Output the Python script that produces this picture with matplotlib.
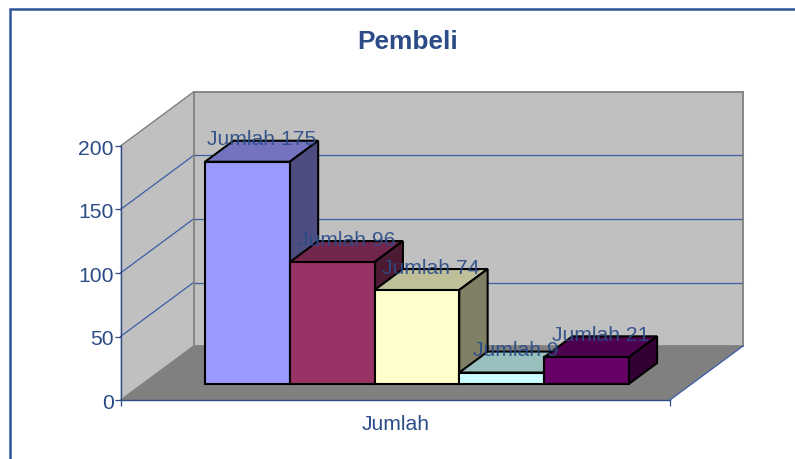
import matplotlib
matplotlib.use("Agg")
import matplotlib.pyplot as plt
from matplotlib.patches import Polygon
from matplotlib.lines import Line2D
from matplotlib.colors import to_rgb
from matplotlib.transforms import ScaledTranslation

W, H = 795, 459
plt.rcParams['font.family'] = ['Liberation Sans', 'DejaVu Sans']

title = "Pembeli"
category = "Jumlah"
values = [175, 96, 74, 9, 21]
front_colors = ['#9999FF', '#993366', '#FFFFCC', '#CCFFFF', '#660066']
y_ticks = [0, 50, 100, 150, 200]

NAVY = '#2B4C87'
GRID = '#3A5EA6'
FRAME = '#2F5597'
WALL = '#C0C0C0'
FLOOR = '#808080'
EDGE = '#808080'

# Front plane of the 3D box, in pixels
L, R, T, B = 120.5, 670, 146, 400
DX_PX, DY_PX = 73, 54            # full depth of the box
YMAX = 200
GAP = 0.1145                     # category gap on each side
BAR_W = (1 - 2 * GAP) / len(values)
D0, D1 = 16 / 54, 37 / 54        # depth span of bars

fig = plt.figure(figsize=(W / 100, H / 100), dpi=100, facecolor='white')
ax = fig.add_axes([L / W, 1 - B / H, (R - L) / W, (B - T) / H])
ax.set_xlim(0, 1)
ax.set_ylim(0, YMAX)
ax.patch.set_visible(False)


def proj(x, v, d):
    return (x + d * DX_PX / (R - L), v + d * DY_PX / ((B - T) / YMAX))


def face(pts, fc, ec='none', lw=0, z=1):
    ax.add_patch(Polygon([proj(*p) for p in pts], closed=True, facecolor=fc,
                         edgecolor=ec, linewidth=lw, zorder=z, clip_on=False,
                         joinstyle='miter'))


# walls and floor
face([(0, 0, 0), (0, YMAX, 0), (0, YMAX, 1), (0, 0, 1)], WALL)
face([(0, 0, 1), (0, YMAX, 1), (1, YMAX, 1), (1, 0, 1)], WALL)
face([(0, 0, 0), (1, 0, 0), (1, 0, 1), (0, 0, 1)], FLOOR)


def seg(a, b, color, lw, z=1.5):
    p, q = proj(*a), proj(*b)
    ax.add_line(Line2D([p[0], q[0]], [p[1], q[1]], color=color, lw=lw,
                       zorder=z, clip_on=False))


for t in y_ticks[1:-1]:
    seg((0, t, 0), (0, t, 1), GRID, 0.9)
    seg((0, t, 1), (1, t, 1), GRID, 0.9)
seg((0, YMAX, 0), (0, YMAX, 1), EDGE, 1.0)
seg((0, YMAX, 1), (1, YMAX, 1), EDGE, 1.3)
seg((0, 0, 1), (0, YMAX, 1), EDGE, 1.3)
seg((1, 0, 1), (1, YMAX, 1), EDGE, 1.3)
seg((0, 0, 1), (1, 0, 1), EDGE, 1.3)
seg((0, 0, 0), (0, 0, 1), EDGE, 0.8)
seg((1, 0, 0), (1, 0, 1), GRID, 0.9)


def shade(c, k):
    return tuple(k * ch for ch in to_rgb(c))


# bars
for i, (v, c) in enumerate(zip(values, front_colors)):
    x0 = GAP + i * BAR_W
    x1 = x0 + BAR_W
    z = 2 + i * 0.1
    face([(x0, v, D0), (x1, v, D0), (x1, v, D1), (x0, v, D1)], shade(c, 0.75), 'black', 1.5, z)
    face([(x1, 0, D0), (x1, v, D0), (x1, v, D1), (x1, 0, D1)], shade(c, 0.5), 'black', 1.5, z)
    face([(x0, 0, D0), (x1, 0, D0), (x1, v, D0), (x0, v, D0)], c, 'black', 1.5, z + 0.01)

# data labels
for i, v in enumerate(values):
    xm = GAP + (i + 0.5) * BAR_W
    px, py = proj(xm, v, (D0 + D1) / 2)
    px2, py2 = proj(xm, v, D1)
    ax.annotate(f"{category} {v}", xy=(px, py2), xytext=(0, 1), textcoords='offset pixels',
                ha='center', va='center', fontsize=15.2, color=NAVY, alpha=0.92,
                zorder=5, annotation_clip=False)

# axes
for s in ['top', 'right']:
    ax.spines[s].set_visible(False)
for s in ['left', 'bottom']:
    ax.spines[s].set_color(NAVY)
    ax.spines[s].set_linewidth(1.0)
    ax.spines[s].set_zorder(1.8)
ax.set_yticks(y_ticks)
ax.set_xticks([0, 1])
ax.set_xticklabels(['', ''])
ax.set_xticks([0.5], minor=True)
ax.set_xticklabels([category], minor=True)
ax.tick_params(axis='y', colors=NAVY, labelsize=15.2, length=4, width=0.9, pad=1)
ax.tick_params(axis='x', which='major', colors=NAVY, length=4, width=0.9)
ax.tick_params(axis='x', which='minor', colors=NAVY, labelsize=15.2, length=0, pad=11)
shift = ScaledTranslation(0, -0.75 / 72, fig.dpi_scale_trans)
for lab in ax.get_yticklabels():
    lab.set_transform(lab.get_transform() + shift)

# outer frame
fx, fy = 9.5 / W, 1 - 8.5 / H
fig.add_artist(Line2D([fx, fx, 1.01], [-0.01, fy, fy], color=FRAME, lw=1.8,
                      transform=fig.transFigure, solid_joinstyle='miter'))
fig.text(408 / W, 1 - 42 / H, title, ha='center', va='center', fontsize=18.9,
         fontweight='bold', color=NAVY)

fig.savefig('out.png', dpi=100)
